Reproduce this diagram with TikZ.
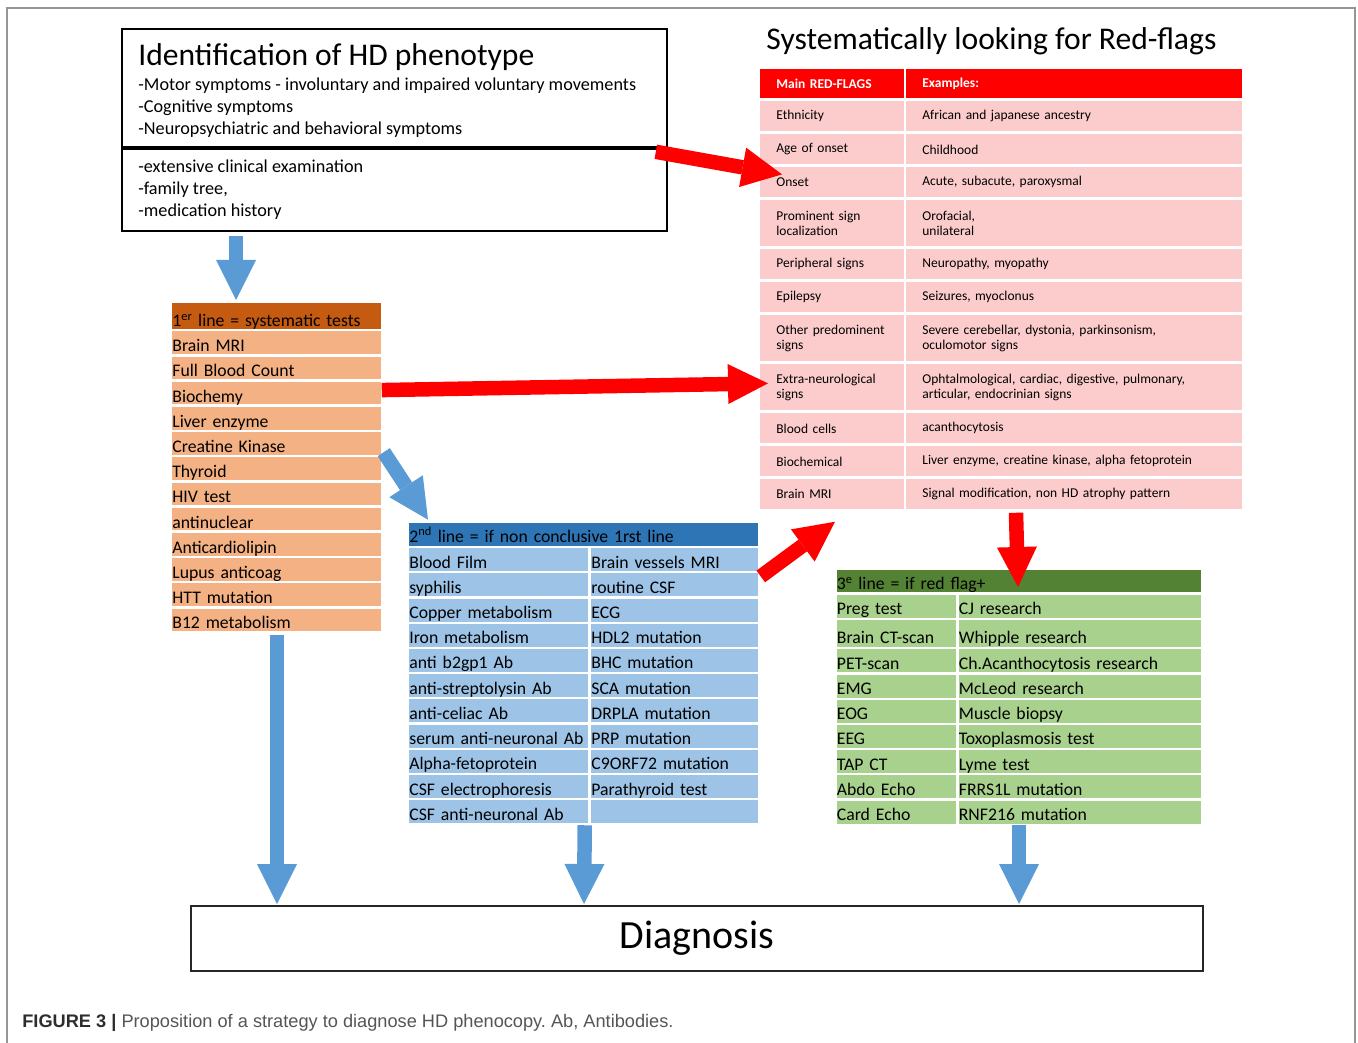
\documentclass[tikz,border=0pt]{standalone}
\usepackage{fontspec}
\setmainfont{Carlito}
\newfontfamily\capfont{Liberation Sans}
\usetikzlibrary{arrows.meta}
\usetikzlibrary{calc}
\frenchspacing

\definecolor{flagred}{RGB}{255,0,0}
\definecolor{flagpink}{RGB}{252,204,204}
\definecolor{orangedark}{RGB}{197,90,17}
\definecolor{orangelight}{RGB}{244,177,131}
\definecolor{bluedark}{RGB}{46,117,182}
\definecolor{bluelight}{RGB}{157,195,230}
\definecolor{greendark}{RGB}{84,130,53}
\definecolor{greenlight}{RGB}{169,209,142}
\definecolor{arrowblue}{RGB}{91,155,213}
\definecolor{framegray}{RGB}{150,150,150}
\definecolor{capdark}{RGB}{45,45,45}
\definecolor{capgray}{RGB}{85,85,85}

\newcommand{\hdtitlefont}{\fontsize{31.6}{36}\selectfont}
\newcommand{\hdbodyfont}{\fontsize{18.2}{22}\selectfont}
\newcommand{\hdtabfont}{\fontsize{17.7}{21}\selectfont}
\newcommand{\hdflagfont}{\fontsize{13.5}{15.7}\selectfont}
\newcommand{\hddiagfont}{\fontsize{40}{48}\selectfont}
\newcommand{\hdcapfont}{\capfont\fontsize{18.2}{22}\selectfont}

\tikzset{every picture/.style={line width=0.75pt}}
\tikzset{
  txt/.style={anchor=base west, inner sep=0pt},
  frame/.style={draw, line width=1.8pt, anchor=north west, inner sep=0pt},
  cell/.style={anchor=north west, inner sep=0pt, align=left, font=\hdtabfont, text height=17pt, text depth=0pt},
  ocell/.style={cell, fill=orangelight, text width=209pt, minimum height=22.6pt, text height=18pt},
  ohead/.style={cell, fill=orangedark, text width=209pt, minimum height=25.5pt, text height=21pt},
  bcell/.style={cell, fill=bluelight, text width=#1, minimum height=23pt},
  bhead/.style={cell, fill=bluedark, text width=348.5pt, minimum height=22.6pt, text height=15.5pt},
  gcell/.style={cell, fill=greenlight, text width=#1, minimum height=23pt},
  ghead/.style={cell, fill=greendark, text width=364.5pt, minimum height=22.7pt},
  flag/.style={anchor=north west, inner sep=0pt, align=left, font=\hdflagfont, fill=flagpink, text width=#1, minimum height=30pt, execute at begin node={\leftskip=16pt}},
  flaghead/.style={flag=#1, fill=flagred, text=white, font=\hdflagfont\bfseries, minimum height=28.5pt},
  blockarrow/.style={line width=14.5pt, -{Triangle[width=40pt,length=40pt,line width=0pt]}},
  bluearrow/.style={blockarrow, draw=arrowblue},
  redarrow/.style={blockarrow, draw=flagred}
}

\begin{document}
\begin{tikzpicture}[x=1pt,y=1pt,yscale=-1,xscale=1]
\useasboundingbox (0,0) rectangle (1358,1043);

%Straight Lines (figure frame)
\draw [framegray, line width=1.5pt] (7,1043) -- (7,8) -- (1355,8) -- (1355,1043) ;

%Shape: Rectangle (phenotype)
\node [frame, minimum width=545pt, minimum height=120pt] (pheno) at (121,28) {};
%Shape: Rectangle (examination)
\node [frame, minimum width=545pt, minimum height=82pt] (exam) at (121,148) {};
\draw [line width=3pt] (exam.north west) -- (exam.north east) ;

% Text Node
\node [txt, font=\hdtitlefont] (ptitle) at (138,66) {Identification of HD phenotype};
\node [txt, font=\hdbodyfont] (sym1) at (138,91) {-Motor symptoms - involuntary and impaired voluntary movements};
\node [txt, font=\hdbodyfont] (sym2) at (138,113) {-Cognitive symptoms};
\node [txt, font=\hdbodyfont] (sym3) at (138,135) {-Neuropsychiatric and behavioral symptoms};
\node [txt, font=\hdbodyfont] (ex1) at (138,173) {-extensive clinical examination};
\node [txt, font=\hdbodyfont] (ex2) at (138,195) {-family tree,};
\node [txt, font=\hdbodyfont] (ex3) at (138,217) {-medication history};

% Text Node
\node [txt, font=\hdtitlefont] (rtitle) at (766,50) {Systematically looking for Red-flags};

%Shape: Table (red flags)
\node [flaghead=143.5pt] (fh) at (760,69) {Main RED-FLAGS};
\node [flaghead=335.5pt] (eh) at (906,69) {Examples:};
\node [flag=143.5pt] (f1) at (760,101) {Ethnicity};
\node [flag=335.5pt] (e1) at (906,101) {African and japanese ancestry};
\node [flag=143.5pt] (f2) at (760,134) {Age of onset};
\node [flag=335.5pt] (e2) at (906,134) {Childhood};
\node [flag=143.5pt] (f3) at (760,167) {Onset};
\node [flag=335.5pt] (e3) at (906,167) {Acute, subacute, paroxysmal};
\node [flag=143.5pt, minimum height=46pt] (f4) at (760,200) {Prominent sign\\localization};
\node [flag=335.5pt, minimum height=46pt] (e4) at (906,200) {Orofacial,\\unilateral};
\node [flag=143.5pt] (f5) at (760,249) {Peripheral signs};
\node [flag=335.5pt] (e5) at (906,249) {Neuropathy, myopathy};
\node [flag=143.5pt] (f6) at (760,282) {Epilepsy};
\node [flag=335.5pt] (e6) at (906,282) {Seizures, myoclonus};
\node [flag=143.5pt, minimum height=46pt] (f7) at (760,315) {Other predominent\\signs};
\node [flag=335.5pt, minimum height=46pt] (e7) at (906,315) {Severe cerebellar, dystonia, parkinsonism,\\oculomotor signs};
\node [flag=143.5pt, minimum height=46pt] (f8) at (760,364) {Extra-neurological\\signs};
\node [flag=335.5pt, minimum height=46pt] (e8) at (906,364) {Ophtalmological, cardiac, digestive, pulmonary,\\articular, endocrinian signs};
\node [flag=143.5pt] (f9) at (760,413) {Blood cells};
\node [flag=335.5pt] (e9) at (906,413) {acanthocytosis};
\node [flag=143.5pt] (f10) at (760,446) {Biochemical};
\node [flag=335.5pt] (e10) at (906,446) {Liver enzyme, creatine kinase, alpha fetoprotein};
\node [flag=143.5pt] (f11) at (760,479) {Brain MRI};
\node [flag=335.5pt] (e11) at (906,479) {Signal modification, non HD atrophy pattern};

%Shape: Table (1st line)
\node [ohead] (o0) at (172,303) {1\textsuperscript{er} line = systematic tests};
\node [ocell] (o1) at (172,331) {Brain MRI};
\node [ocell] (o2) at (172,356.2) {Full Blood Count};
\node [ocell] (o3) at (172,381.4) {Biochemy};
\node [ocell] (o4) at (172,406.6) {Liver enzyme};
\node [ocell] (o5) at (172,431.8) {Creatine Kinase};
\node [ocell] (o6) at (172,457) {Thyroid};
\node [ocell] (o7) at (172,482.2) {HIV test};
\node [ocell] (o8) at (172,507.4) {antinuclear};
\node [ocell] (o9) at (172,532.6) {Anticardiolipin};
\node [ocell] (o10) at (172,557.8) {Lupus anticoag};
\node [ocell] (o11) at (172,583) {HTT mutation};
\node [ocell] (o12) at (172,608.2) {B12 metabolism};

%Shape: Table (2nd line)
\node [bhead] (b0) at (409,522.7) {2\textsuperscript{nd} line = if non conclusive 1rst line};
\node [bcell=179pt] (bl1) at (409,547.7) {Blood Film};
\node [bcell=166.5pt] (br1) at (591,547.7) {Brain vessels MRI};
\node [bcell=179pt] (bl2) at (409,572.9) {syphilis};
\node [bcell=166.5pt] (br2) at (591,572.9) {routine CSF};
\node [bcell=179pt] (bl3) at (409,598.2) {Copper metabolism};
\node [bcell=166.5pt] (br3) at (591,598.2) {ECG};
\node [bcell=179pt] (bl4) at (409,623.4) {Iron metabolism};
\node [bcell=166.5pt] (br4) at (591,623.4) {HDL2 mutation};
\node [bcell=179pt] (bl5) at (409,648.6) {anti b2gp1 Ab};
\node [bcell=166.5pt] (br5) at (591,648.6) {BHC mutation};
\node [bcell=179pt] (bl6) at (409,673.9) {anti-streptolysin Ab};
\node [bcell=166.5pt] (br6) at (591,673.9) {SCA mutation};
\node [bcell=179pt] (bl7) at (409,699.1) {anti-celiac Ab};
\node [bcell=166.5pt] (br7) at (591,699.1) {DRPLA mutation};
\node [bcell=179pt] (bl8) at (409,724.3) {serum anti-neuronal Ab};
\node [bcell=166.5pt] (br8) at (591,724.3) {PRP mutation};
\node [bcell=179pt] (bl9) at (409,749.5) {Alpha-fetoprotein};
\node [bcell=166.5pt] (br9) at (591,749.5) {C9ORF72 mutation};
\node [bcell=179pt] (bl10) at (409,774.8) {CSF electrophoresis};
\node [bcell=166.5pt] (br10) at (591,774.8) {Parathyroid test};
\node [bcell=179pt] (bl11) at (409,800) {CSF anti-neuronal Ab};
\node [bcell=166.5pt] (br11) at (591,800) {};

%Shape: Table (3rd line)
\node [ghead] (g0) at (836.5,569.3) {3\textsuperscript{e} line = if red flag+};
\node [gcell=119.5pt, minimum height=22.7pt] (gl1) at (836.5,594.5) {Preg test};
\node [gcell=242.5pt, minimum height=22.7pt] (gr1) at (958.5,594.5) {CJ research};
\node [gcell=119.5pt, minimum height=26.5pt, text height=20pt] (gl2) at (836.5,620) {Brain CT-scan};
\node [gcell=242.5pt, minimum height=26.5pt, text height=20pt] (gr2) at (958.5,620) {Whipple research};
\node [gcell=119.5pt] (gl3) at (836.5,649) {PET-scan};
\node [gcell=242.5pt] (gr3) at (958.5,649) {Ch.Acanthocytosis research};
\node [gcell=119.5pt] (gl4) at (836.5,674.2) {EMG};
\node [gcell=242.5pt] (gr4) at (958.5,674.2) {McLeod research};
\node [gcell=119.5pt] (gl5) at (836.5,699.4) {EOG};
\node [gcell=242.5pt] (gr5) at (958.5,699.4) {Muscle biopsy};
\node [gcell=119.5pt] (gl6) at (836.5,724.6) {EEG};
\node [gcell=242.5pt] (gr6) at (958.5,724.6) {Toxoplasmosis test};
\node [gcell=119.5pt] (gl7) at (836.5,749.8) {TAP CT};
\node [gcell=242.5pt] (gr7) at (958.5,749.8) {Lyme test};
\node [gcell=119.5pt] (gl8) at (836.5,775) {Abdo Echo};
\node [gcell=242.5pt] (gr8) at (958.5,775) {FRRS1L mutation};
\node [gcell=119.5pt] (gl9) at (836.5,800.2) {Card Echo};
\node [gcell=242.5pt] (gr9) at (958.5,800.2) {RNF216 mutation};

%Shape: Rectangle (diagnosis)
\node [frame, draw=black!85, line width=2pt, minimum width=1012pt, minimum height=65pt, font=\hddiagfont] (diag) at (190,905) {Diagnosis};

%Block Arrows (blue)
\draw [bluearrow] ($(exam.south west)+(115,4)$) -- ($(o0.north west)+(64,-3)$) ;
\draw [bluearrow] ($(o5.south east)+(2,-3)$) -- ($(b0.north west)+(19,-3)$) ;
\draw [bluearrow] ($(o12.south west)+(105,3)$) -- ($(diag.north west)+(87,-1)$) ;
\draw [bluearrow] ($(bl11.south east)+(-4,1.5)$) -- ($(diag.north west)+(394,-1)$) ;
\draw [bluearrow] ($(gr9.south west)+(60.5,1.5)$) -- ($(diag.north west)+(829,-1)$) ;

%Block Arrows (red)
\draw [redarrow] ($(pheno.south east)+(-12,2)$) -- ($(f3.west)+(22,-8)$) ;
\draw [redarrow] ($(o3.east)+(0,-3)$) -- ($(f8.west)+(8,-4)$) ;
\draw [redarrow] ($(br1.south east)+(2.5,5)$) -- ($(f11.south west)+(75,12)$) ;
\draw [redarrow] ($(e11.south west)+(110,3)$) -- ($(g0.north west)+(181.5,17.7)$) ;

% Text Node
\node [txt, font=\hdcapfont] (caption) at (22,1027) {\textcolor{capdark}{\bfseries FIGURE 3 |} \textcolor{capgray}{Proposition of a strategy to diagnose HD phenocopy. Ab, Antibodies.}};

\end{tikzpicture}
\end{document}
